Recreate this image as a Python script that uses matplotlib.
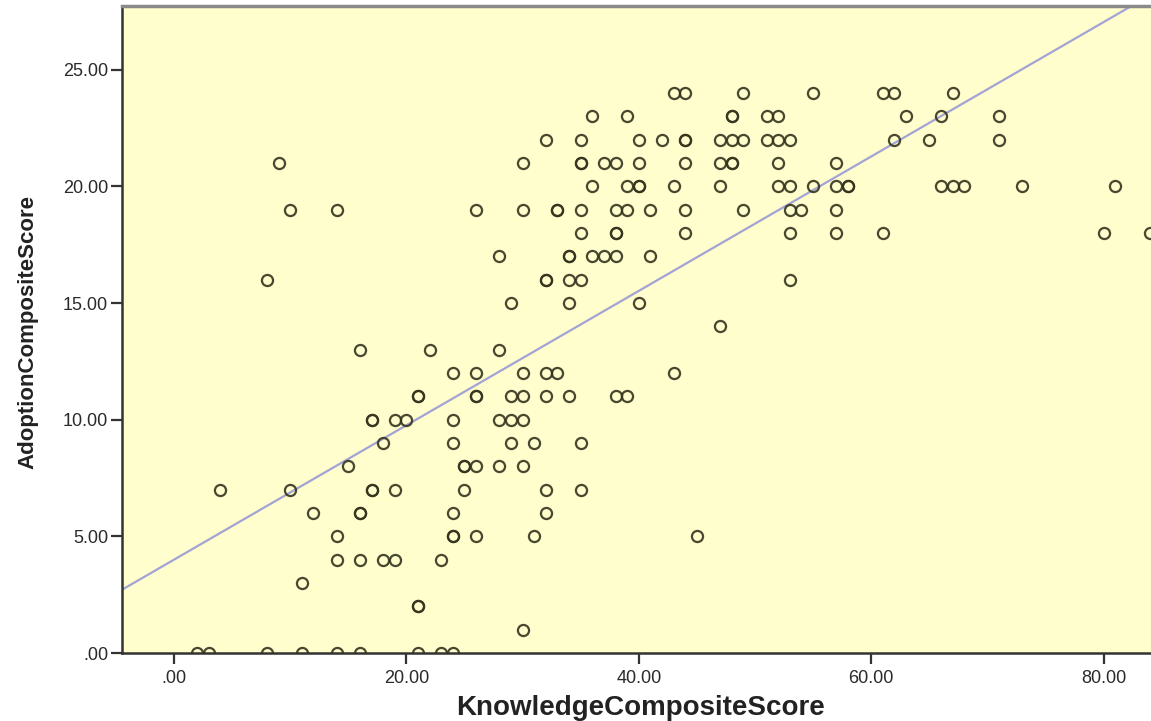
import matplotlib
matplotlib.use("Agg")
import matplotlib.pyplot as plt
from matplotlib.ticker import FixedLocator, FuncFormatter

# Knowledge vs adoption composite scores, one entry per respondent.
# Listed row by row, from the highest adoption score down.
knowledge_scores = [
    43, 44, 49, 55, 61, 62, 67,                                   # 24
    36, 39, 48, 48, 51, 52, 63, 66, 71,                           # 23
    32, 35, 40, 42, 44, 44, 47, 48, 49, 51, 52, 53, 62, 65, 71,   # 22
    9, 30, 35, 35, 37, 38, 40, 44, 47, 48, 48, 52, 57,            # 21
    36, 39, 40, 40, 43, 47, 52, 53, 55, 57, 58, 58, 66, 67, 68, 73, 81,  # 20
    10, 14, 26, 30, 33, 33, 35, 38, 39, 41, 44, 49, 53, 54, 57,   # 19
    35, 38, 38, 44, 53, 57, 61, 80, 84,                           # 18
    28, 34, 34, 36, 37, 38, 41,                                   # 17
    8, 32, 32, 34, 35, 53,                                        # 16
    29, 34, 40,                                                   # 15
    47,                                                           # 14
    16, 22, 28,                                                   # 13
    24, 26, 30, 32, 33, 43,                                       # 12
    21, 21, 26, 26, 29, 30, 32, 34, 38, 39,                       # 11
    17, 17, 19, 20, 24, 28, 29, 30,                               # 10
    18, 24, 29, 31, 35,                                           # 9
    15, 25, 25, 26, 28, 30,                                       # 8
    4, 10, 17, 17, 19, 25, 32, 35,                                # 7
    12, 16, 16, 24, 32,                                           # 6
    14, 24, 24, 26, 31, 45,                                       # 5
    14, 16, 18, 19, 23,                                           # 4
    11,                                                           # 3
    21, 21,                                                       # 2
    30,                                                           # 1
    2, 3, 8, 11, 14, 16, 21, 23, 24,                              # 0
]
row_counts = {24: 7, 23: 9, 22: 15, 21: 13, 20: 17, 19: 15, 18: 9, 17: 7,
              16: 6, 15: 3, 14: 1, 13: 3, 12: 6, 11: 10, 10: 8, 9: 5, 8: 6,
              7: 8, 6: 5, 5: 6, 4: 5, 3: 1, 2: 2, 1: 1, 0: 9}
adoption_scores = [score for score, n in row_counts.items() for _ in range(n)]

# linear fit line (intercept, slope)
fit_intercept = 4.0
fit_slope = 0.288

x_ticks = [0, 20, 40, 60, 80]
y_ticks = [0, 5, 10, 15, 20, 25]


def spss_fmt(v, pos=None):
    s = f"{v:.2f}"
    return s[1:] if s.startswith("0.") else s


fig = plt.figure(figsize=(11.51, 7.21), dpi=100)
ax = fig.add_axes([122 / 1151, 68 / 721, 1029 / 1151, 647 / 721])
ax.set_facecolor("#FFFECC")

ax.set_xlim(-4.475, 84.08)
ax.set_ylim(0, 27.73)

xl = ax.get_xlim()
ax.plot(xl, [fit_intercept + fit_slope * v for v in xl],
        color="#A3A3D6", lw=1.6, zorder=2)

ax.plot(knowledge_scores, adoption_scores, "o", ms=8, mew=1.6,
        mfc="none", mec="#34341F", alpha=0.9, zorder=3)

ax.xaxis.set_major_locator(FixedLocator(x_ticks))
ax.yaxis.set_major_locator(FixedLocator(y_ticks))
ax.xaxis.set_major_formatter(FuncFormatter(spss_fmt))
ax.yaxis.set_major_formatter(FuncFormatter(spss_fmt))

ax.tick_params(axis="both", direction="out", length=8, width=1.6,
               color="#333333", labelcolor="#2A2A2A")
ax.tick_params(axis="y", pad=2)
ax.tick_params(axis="x", pad=4)
for lab in ax.get_xticklabels() + ax.get_yticklabels():
    lab.set_fontfamily(["Liberation Sans", "DejaVu Sans"])
    lab.set_fontsize(13)

for side in ("left", "bottom"):
    ax.spines[side].set_color("#333333")
    ax.spines[side].set_linewidth(1.8)
ax.spines["top"].set_color("#8A8A8A")
ax.spines["top"].set_linewidth(2.5)
ax.spines["right"].set_visible(False)

label_font = ["Liberation Sans", "DejaVu Sans"]
fig.text(641 / 1151, 1 - 708 / 721, "KnowledgeCompositeScore",
         ha="center", va="center", fontsize=20, fontweight="bold",
         family=label_font, color="#222222")
fig.text(28 / 1151, 1 - 332 / 721, "AdoptionCompositeScore",
         ha="center", va="center", rotation=90, fontsize=16,
         fontweight="bold", family=label_font, color="#222222")

fig.savefig("out.png", dpi=100)
